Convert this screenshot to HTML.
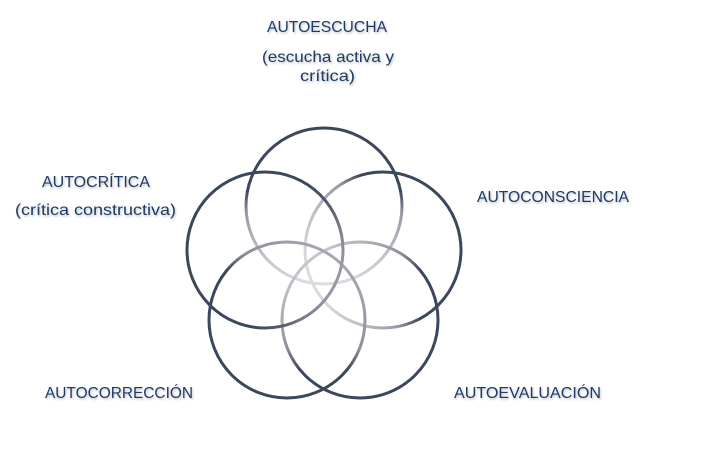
<!DOCTYPE html>
<html><head><meta charset="utf-8"><style>
html,body{margin:0;padding:0;background:#fff;}
svg{display:block;}
text{font-family:"Liberation Sans",sans-serif;font-size:16px;fill:#1f3b68;}
</style></head><body>
<svg width="714" height="455" viewBox="0 0 714 455">
<defs>
<filter id="sh" x="-10%" y="-30%" width="120%" height="160%"><feDropShadow dx="1" dy="1.5" stdDeviation="1" flood-color="#000" flood-opacity="0.25"/></filter>
<linearGradient id="gT" x1="0.5" y1="0" x2="0.5" y2="1"><stop offset="0" stop-color="#3b475b"/><stop offset="0.4" stop-color="#3b475b"/><stop offset="0.55" stop-color="#9a98a4"/><stop offset="1" stop-color="#dcdbe0"/></linearGradient>
<linearGradient id="gL" x1="0.04" y1="0.31" x2="0.96" y2="0.69"><stop offset="0" stop-color="#3b475b"/><stop offset="0.6" stop-color="#3b475b"/><stop offset="0.8" stop-color="#5a6072"/><stop offset="1" stop-color="#9a98a4"/></linearGradient>
<linearGradient id="gR" x1="0.96" y1="0.31" x2="0.04" y2="0.69"><stop offset="0" stop-color="#3b475b"/><stop offset="0.45" stop-color="#3b475b"/><stop offset="0.6" stop-color="#9a98a4"/><stop offset="1" stop-color="#dcdbe0"/></linearGradient>
<linearGradient id="gBL" x1="0.18" y1="0.89" x2="0.82" y2="0.11"><stop offset="0" stop-color="#3b475b"/><stop offset="0.5" stop-color="#3b475b"/><stop offset="0.65" stop-color="#8e8c98"/><stop offset="1" stop-color="#a8a6b0"/></linearGradient>
<linearGradient id="gBR" x1="0.82" y1="0.89" x2="0.18" y2="0.11"><stop offset="0" stop-color="#3b475b"/><stop offset="0.5" stop-color="#3b475b"/><stop offset="0.65" stop-color="#8e8c98"/><stop offset="1" stop-color="#c8c6cc"/></linearGradient>
</defs>
<g fill="none" stroke-width="3">
<circle cx="324" cy="206" r="78" stroke="url(#gT)"/>
<circle cx="383" cy="250" r="78" stroke="url(#gR)"/>
<circle cx="360" cy="320" r="78" stroke="url(#gBR)"/>
<circle cx="287" cy="320" r="78" stroke="url(#gBL)"/>
<circle cx="265" cy="250" r="78" stroke="url(#gL)"/>
</g>
<g filter="url(#sh)">
<text x="267" y="32" textLength="120" lengthAdjust="spacingAndGlyphs">AUTOESCUCHA</text>
<text x="262" y="62" textLength="132" lengthAdjust="spacingAndGlyphs">(escucha activa y</text>
<text x="300" y="81" textLength="55" lengthAdjust="spacingAndGlyphs">crítica)</text>
<text x="42" y="187" textLength="108" lengthAdjust="spacingAndGlyphs">AUTOCRÍTICA</text>
<text x="15" y="215" textLength="161" lengthAdjust="spacingAndGlyphs">(crítica constructiva)</text>
<text x="477" y="202" textLength="152" lengthAdjust="spacingAndGlyphs">AUTOCONSCIENCIA</text>
<text x="45" y="398" textLength="148" lengthAdjust="spacingAndGlyphs">AUTOCORRECCIÓN</text>
<text x="454" y="398" textLength="147" lengthAdjust="spacingAndGlyphs">AUTOEVALUACIÓN</text>
</g>
</svg>
</body></html>
